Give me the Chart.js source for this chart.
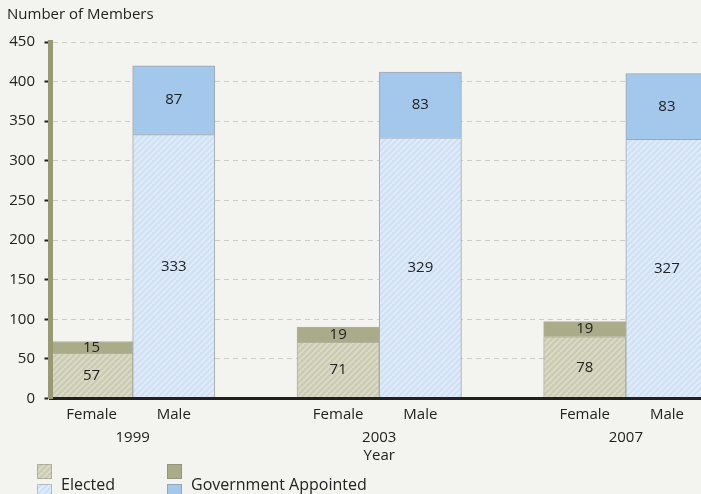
<!DOCTYPE html>
<html>
<head>
<meta charset="utf-8">
<script src="https://cdn.jsdelivr.net/npm/chart.js@4.4.0/dist/chart.umd.min.js"></script>
<style>
  html, body { margin: 0; padding: 0; background: #f3f3ef; overflow: hidden; width: 701px; height: 494px; }
  #wrap { position: absolute; left: 0; top: 0; width: 708px; height: 494px; }
  #legend { position: absolute; left: 0; top: 0; width: 701px; height: 494px; pointer-events: none;
            font-family: "Open Sans", sans-serif; font-size: 16px; color: #222; }
  .sw { position: absolute; width: 15px; height: 15px; box-sizing: border-box; border: 1px solid rgba(110,110,100,0.35); }
  .lt { position: absolute; line-height: 20px; white-space: nowrap; }
</style>
</head>
<body>
<div id="wrap"><canvas id="c"></canvas></div>
<div id="legend"></div>
<script>
// Members by year and sex
const years = ['1999', '2003', '2007'];
const sexes = ['Female', 'Male'];
const electedFemale = [57, 71, 78];
const electedMale = [333, 329, 327];
const appointedFemale = [15, 19, 19];
const appointedMale = [87, 83, 83];
const seriesNames = ['Elected', 'Government Appointed'];
const yMin = 0, yMax = 450, yStep = 50;
const axisTitleY = 'Number of Members';
const axisTitleX = 'Year';

const FONT = '"Open Sans", sans-serif';
const TEXT = '#222222';

// Diagonal hatch tile used for the elected segments
function hatchTile(base, stripe) {
  const s = 6;
  const c = document.createElement('canvas');
  c.width = s; c.height = s;
  const g = c.getContext('2d');
  g.fillStyle = base; g.fillRect(0, 0, s, s);
  g.strokeStyle = stripe; g.lineWidth = 1.6;
  g.beginPath();
  g.moveTo(0, s); g.lineTo(s, 0);
  g.moveTo(-1, 1); g.lineTo(1, -1);
  g.moveTo(s - 1, s + 1); g.lineTo(s + 1, s - 1);
  g.stroke();
  return c;
}
const tiles = {
  Female: hatchTile('#cbcbb2', '#dcdcca'),
  Male: hatchTile('#cfe1f4', '#e3edf9')
};
const pctx = document.createElement('canvas').getContext('2d');
const fills = {
  Female: { Elected: pctx.createPattern(tiles.Female, 'repeat'), Appointed: '#a9ab89' },
  Male: { Elected: pctx.createPattern(tiles.Male, 'repeat'), Appointed: '#a3c8ec' }
};
const edges = { Female: '#b2b29e', Male: '#a3a7ab' };

// Category slots: Female, Male, gap, Female, Male, gap, ...
const labels = [], slotSex = [], elected = [], appointed = [], yearPos = [];
years.forEach((yr, i) => {
  yearPos.push(labels.length + 0.5);
  labels.push(sexes[0]); slotSex.push('Female'); elected.push(electedFemale[i]); appointed.push(appointedFemale[i]);
  labels.push(sexes[1]); slotSex.push('Male'); elected.push(electedMale[i]); appointed.push(appointedMale[i]);
  if (i < years.length - 1) { labels.push(''); slotSex.push(null); elected.push(null); appointed.push(null); }
});

const pick = (kind) => (ctx) => {
  const sx = slotSex[ctx.dataIndex];
  return sx ? fills[sx][kind] : 'transparent';
};
const edge = (ctx) => edges[slotSex[ctx.dataIndex]] || 'transparent';

// Value written in the middle of each stacked segment
const valueLabels = {
  id: 'valueLabels',
  afterDatasetsDraw(chart) {
    const ctx = chart.ctx;
    ctx.save();
    ctx.font = '15px ' + FONT;
    ctx.fillStyle = TEXT;
    ctx.textAlign = 'center';
    ctx.textBaseline = 'middle';
    chart.data.datasets.forEach((ds, di) => {
      chart.getDatasetMeta(di).data.forEach((bar, i) => {
        const v = ds.data[i];
        if (v == null) return;
        const p = bar.getProps(['x', 'y', 'base'], true);
        ctx.fillText(String(v), p.x, (p.y + p.base) / 2);
      });
    });
    ctx.restore();
  }
};

const chart = new Chart(document.getElementById('c'), {
  type: 'bar',
  data: {
    labels: labels,
    datasets: [
      { label: seriesNames[0], data: elected, backgroundColor: pick('Elected'), borderColor: edge, borderWidth: 1,
        barPercentage: 1, categoryPercentage: 1 },
      { label: seriesNames[1], data: appointed, backgroundColor: pick('Appointed'), borderColor: edge, borderWidth: 1,
        barPercentage: 1, categoryPercentage: 1 }
    ]
  },
  options: {
    responsive: true,
    maintainAspectRatio: false,
    animation: false,
    layout: { padding: { left: 7, right: 0, top: 0, bottom: 29 } },
    plugins: {
      legend: { display: false },
      tooltip: { enabled: false },
      title: {
        display: true, text: axisTitleY, align: 'start', color: TEXT,
        font: { family: FONT, size: 15, weight: 'normal' },
        padding: { top: 6, bottom: 18 }
      }
    },
    scales: {
      x: {
        type: 'category', stacked: true, offset: true,
        grid: { display: false, drawTicks: false },
        border: { display: true, color: '#231f20', width: 3, z: 1 },
        ticks: { color: TEXT, font: { family: FONT, size: 15 }, padding: 7, autoSkip: false, maxRotation: 0 },
        afterFit(s) { s.height = 24; }
      },
      yr: {
        type: 'linear', position: 'bottom', min: -0.5, max: 7.5, weight: 1, offset: false,
        grid: { display: false, drawTicks: false, offset: false },
        border: { display: false },
        afterBuildTicks(s) { s.ticks = yearPos.map(v => ({ value: v })); },
        ticks: {
          color: TEXT, font: { family: FONT, size: 15 }, padding: 6, autoSkip: false, maxRotation: 0,
          callback: (v) => { const k = yearPos.indexOf(v); return k >= 0 ? years[k] : ''; }
        },
        title: { display: true, text: axisTitleX, color: TEXT, font: { family: FONT, size: 15 }, padding: 0 },
        afterFit(s) { s.height = 42.5; }
      },
      y: {
        stacked: true, min: yMin, max: yMax,
        ticks: { stepSize: yStep, padding: 9.5, color: TEXT, font: { family: FONT, size: 15 } },
        grid: { color: '#cbcbc7', tickColor: '#1e1e1e', tickWidth: 2, tickLength: 6, tickBorderDash: [] },
        border: { color: '#999973', width: 5, dash: [5, 4], z: 1 },
        afterFit(s) { s.width = 43.5; }
      }
    }
  },
  plugins: [valueLabels]
});

// Legend: one column per series, a swatch for each sex
const legendEl = document.getElementById('legend');
const legendX = [37, 167];
const kinds = ['Elected', 'Appointed'];
seriesNames.forEach((name, k) => {
  sexes.forEach((sx, j) => {
    const sw = document.createElement('div');
    sw.className = 'sw';
    sw.style.left = legendX[k] + 'px';
    sw.style.top = (464 + j * 20) + 'px';
    if (kinds[k] === 'Elected') sw.style.backgroundImage = 'url(' + tiles[sx].toDataURL() + ')';
    else sw.style.backgroundColor = fills[sx][kinds[k]];
    legendEl.appendChild(sw);
  });
  const t = document.createElement('div');
  t.className = 'lt';
  t.style.left = (legendX[k] + 24) + 'px';
  t.style.top = '474px';
  t.textContent = name;
  legendEl.appendChild(t);
});
</script>
</body>
</html>
